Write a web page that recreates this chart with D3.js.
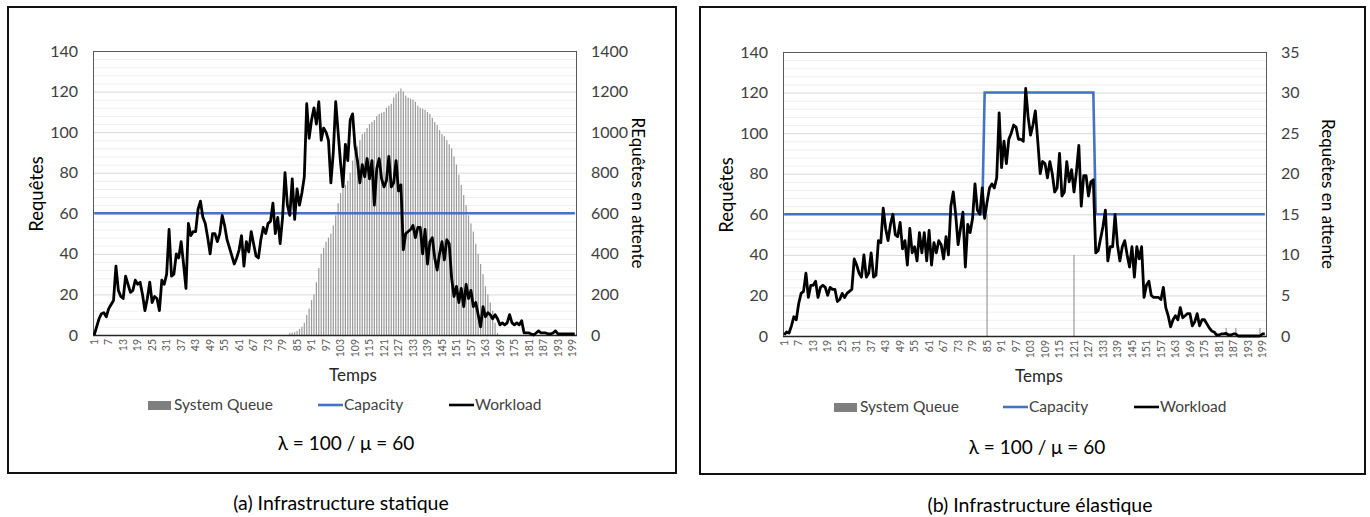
<!DOCTYPE html>
<html>
<head>
<meta charset="utf-8">
<script src="https://cdn.jsdelivr.net/npm/d3@7/dist/d3.min.js"></script>
<style>
  body { margin: 0; background: #fff; }
  svg { display: block; font-family: Lato, "Open Sans", sans-serif; }
</style>
</head>
<body>
<svg id="chart" width="1370" height="517"></svg>
<script>
// time steps 1..200 on the category axis
var categories = d3.range(1, 201);
var tickLabels = [1,7,13,19,25,31,37,43,49,55,61,67,73,79,85,91,97,103,109,115,121,127,133,139,145,151,157,163,169,175,181,187,193,199];

// (a) static infrastructure
var workloadStatic = [
  0,4,8,10.5,11,9,13,15,17,34, 22,19,18,29,25,21,22,27,25,26,
  20,12,18,26,16,19,18,12,27,25, 30,52,29,30,40,38,46,35,23,55,
  49,51,51,62,66,58,55,48,40,50, 50,46,50,59,54,47,43,39,35,38,
  42,49,34,46,41,51,45,39,38,47, 53,50,55,56,65,50,58,45,58,80,
  64,59,77,57,72,64,70,78,114,97, 106,112,104,115,96,102,100,96,75,90,
  115,100,85,73,94,86,106,109,93,86, 75,84,78,87,77,86,64,82,87,77,
  73,76,88,73,75,86,71,74,42,50, 51,52,54,48,53,53,40,52,35,46,
  48,38,32,40,46,37,47,45,28,19, 24,16,23,14,25,18,22,14,16,10,
  4,14,9,11,10,8,10,8,5,6, 5,6,10,6,5,6,5,7,1,1,
  1,0.5,0,1,2,1,1,1,0.5,0.5, 1,2,0.5,0.5,0.5,0.5,0.5,0.5,0.5,0.5
];
var queueStatic = [
  0,0,0,0,0,0,0,0,0,0, 0,0,0,0,0,0,0,0,0,0,
  0,0,0,0,0,0,0,0,0,0, 0,0,0,0,0,0,0,0,0,0,
  0,0,0,0,0,0,0,0,0,0, 0,0,0,0,0,0,0,0,0,0,
  0,0,0,0,0,0,0,0,0,0, 0,0,0,0,0,0,0,0,0,0,
  0,10,12,14,20,30,40,60,99,130, 172,200,260,330,400,430,460,480,500,540,
  590,650,700,720,740,760,800,860,900,930, 960,990,1000,1020,1040,1050,1060,1080,1090,1095,
  1100,1120,1130,1140,1170,1190,1200,1215,1200,1180, 1170,1165,1160,1150,1130,1120,1115,1110,1100,1090,
  1070,1050,1035,1010,990,980,960,940,920,880, 840,790,740,690,640,590,550,510,450,400,
  350,300,240,200,160,120,60,10,0,0, 0,0,0,0,0,0,0,0,0,0,
  0,0,0,0,0,0,0,0,0,0, 0,0,0,0,0,0,0,0,0,0
];
var capacityStaticCats = [1, 200];
var capacityStaticVals = [60, 60];

// (b) elastic infrastructure
var workloadElastic = [
  0.5,2,1.5,5,9.5,8,16,21,22,31, 19,25,25,27,19,24,25,24,20,24,
  23,23,17,18,21,19,21,22,23,38, 35,31,29,40,29,31,41,29,30,47,
  46,63,53,47,55,60,50,49,56,43, 47,35,53,41,44,37,51,41,51,37,
  52,35,46,41,47,45,38,49,40,64, 71,60,45,53,61,34,55,51,58,75,
  62,60,73,58,66,73,75,73,78,110, 83,96,85,97,100,104,103,97,97,96,
  122,108,99,104,111,96,80,86,85,78, 86,80,71,73,90,69,71,86,76,82,
  71,81,94,64,79,79,69,76,77,41, 42,48,54,62,37,44,44,60,45,37,
  44,47,40,34,44,29,44,38,44,19, 25,27,20,19,19,19,18,24,14,10,
  4.5,8,10,8,14,9,10,11,11,5, 7,11,5,8,8,6,4,2.5,2,0.5,
  0.5,1,1,1.3,0.5,0.5,1,1,0,0, 0,0,0,0,0,0,0,0,1,1
];
var queueElasticCats = [85, 121, 184, 188, 198];
var queueElasticVals = [15, 10, 1, 1, 1];
var capacityElasticCats = [1, 83, 84, 129, 130, 200];
var capacityElasticVals = [60, 60, 120, 120, 60, 60];

var legendLabels = ["System Queue", "Capacity", "Workload"];
var formulaText = "λ = 100 / μ = 60";

var panels = [
  {
    box: [8, 7, 676, 473], plot: [93, 51, 576, 335],
    rightMax: 1400, rightStep: 200, rightTitle: "REquêtes en attente",
    workload: workloadStatic,
    queueCats: categories, queueVals: queueStatic,
    capCats: capacityStaticCats, capVals: capacityStaticVals,
    tempsX: 353, tempsY: 375, legendY: 405, legendX: [148, 318, 449],
    formulaX: 346, formulaY: 443, caption: "(a) Infrastructure statique", captionX: 341, captionY: 503
  },
  {
    box: [700, 7, 1365, 474], plot: [783, 52, 1266, 336],
    rightMax: 35, rightStep: 5, rightTitle: "Requêtes en attente",
    workload: workloadElastic,
    queueCats: queueElasticCats, queueVals: queueElasticVals,
    capCats: capacityElasticCats, capVals: capacityElasticVals,
    tempsX: 1039, tempsY: 376, legendY: 407, legendX: [834, 1003, 1134],
    formulaX: 1037, formulaY: 447, caption: "(b) Infrastructure élastique", captionX: 1040, captionY: 505
  }
];

var svg = d3.select("#chart");

panels.forEach(drawPanel);

function drawPanel(p) {
  var L = p.plot[0], T = p.plot[1], R = p.plot[2], B = p.plot[3];
  var g = svg.append("g");

  // outer frame
  g.append("rect")
    .attr("x", p.box[0]).attr("y", p.box[1])
    .attr("width", p.box[2] - p.box[0]).attr("height", p.box[3] - p.box[1])
    .attr("fill", "none").attr("stroke", "#111").attr("stroke-width", 2);

  var x = d3.scaleBand().domain(categories).range([L, R]).padding(0);
  var bw = x.bandwidth();
  var y = d3.scaleLinear().domain([0, 140]).range([B, T]);
  var y2 = d3.scaleLinear().domain([0, p.rightMax]).range([B, T]);

  // grid: minor every 4, major every 20
  g.append("g").selectAll("line").data(d3.range(4, 140, 4).filter(function(v){ return v % 20 !== 0; }))
    .enter().append("line")
    .attr("x1", L).attr("x2", R)
    .attr("y1", function(d){ return y(d) + 0.5; }).attr("y2", function(d){ return y(d) + 0.5; })
    .attr("stroke", "#efefef").attr("stroke-width", 1);
  g.append("g").selectAll("line").data(d3.range(20, 140, 20))
    .enter().append("line")
    .attr("x1", L).attr("x2", R)
    .attr("y1", function(d){ return y(d) + 0.5; }).attr("y2", function(d){ return y(d) + 0.5; })
    .attr("stroke", "#d9d9d9").attr("stroke-width", 1);

  // queue bars (right axis)
  g.append("g").selectAll("rect").data(p.queueCats)
    .enter().append("rect")
    .attr("x", function(d){ return x(d) + bw * 0.25; })
    .attr("width", bw * 0.5)
    .attr("y", function(d, i){ return y2(p.queueVals[i]); })
    .attr("height", function(d, i){ return B - y2(p.queueVals[i]); })
    .attr("fill", "#9a9a9a");

  // plot frame
  g.append("rect")
    .attr("x", L + 0.5).attr("y", T + 0.5)
    .attr("width", R - L).attr("height", B - T)
    .attr("fill", "none").attr("stroke", "#595959").attr("stroke-width", 1);
  g.append("line")
    .attr("x1", L).attr("x2", R + 1).attr("y1", B + 0.5).attr("y2", B + 0.5)
    .attr("stroke", "#262626").attr("stroke-width", 1.5);

  // capacity
  var capLine = d3.line()
    .x(function(d){ return x(d) + bw / 2; })
    .y(function(d, i){ return y(p.capVals[i]); });
  g.append("path").datum(p.capCats)
    .attr("d", capLine)
    .attr("fill", "none").attr("stroke", "#4472C4").attr("stroke-width", 2.6);

  // workload
  var wLine = d3.line()
    .x(function(d){ return x(d) + bw / 2; })
    .y(function(d, i){ return y(p.workload[i]); });
  g.append("path").datum(categories)
    .attr("d", wLine)
    .attr("fill", "none").attr("stroke", "#000").attr("stroke-width", 2.8)
    .attr("stroke-linejoin", "round");

  // axes
  var axL = g.append("g").attr("transform", "translate(" + L + ",0)")
    .call(d3.axisLeft(y).tickValues(d3.range(0, 141, 20)).tickSize(0).tickPadding(15));
  var axR = g.append("g").attr("transform", "translate(" + R + ",0)")
    .call(d3.axisRight(y2).tickValues(d3.range(0, p.rightMax + 1, p.rightStep))
      .tickFormat(d3.format("d")).tickSize(0).tickPadding(15));
  [axL, axR].forEach(function(a){
    a.select(".domain").remove();
    a.selectAll("text").attr("font-size", 16).attr("fill", "#404040").attr("font-family", "Lato, sans-serif");
  });

  var axB = g.append("g").attr("transform", "translate(0," + B + ")")
    .call(d3.axisBottom(x).tickValues(tickLabels).tickSize(0));
  axB.select(".domain").remove();
  axB.selectAll("text")
    .attr("transform", "rotate(-90)")
    .attr("text-anchor", "end")
    .attr("x", -4).attr("y", 0).attr("dy", "0.35em")
    .attr("font-size", 10.5).attr("fill", "#595959").attr("font-family", "Lato, sans-serif");

  // titles
  g.append("text")
    .attr("transform", "translate(" + (L - 56) + "," + ((T + B) / 2 + 1) + ") rotate(-90)")
    .attr("text-anchor", "middle").attr("dy", "0.35em")
    .attr("font-size", 18.5).attr("fill", "#000")
    .text("Requêtes");
  g.append("text")
    .attr("transform", "translate(" + (R + 62) + "," + ((T + B) / 2) + ") rotate(90)")
    .attr("text-anchor", "middle").attr("dy", "0.35em")
    .attr("font-size", 17).attr("fill", "#000")
    .text(p.rightTitle);
  g.append("text")
    .attr("x", p.tempsX).attr("y", p.tempsY).attr("dy", "0.35em")
    .attr("text-anchor", "middle").attr("font-size", 17).attr("fill", "#262626")
    .text("Temps");

  // legend
  var ly = p.legendY;
  g.append("rect").attr("x", p.legendX[0]).attr("y", ly - 4).attr("width", 23).attr("height", 9).attr("fill", "#7f7f7f");
  g.append("line").attr("x1", p.legendX[1]).attr("x2", p.legendX[1] + 25).attr("y1", ly).attr("y2", ly)
    .attr("stroke", "#4472C4").attr("stroke-width", 2.6);
  g.append("line").attr("x1", p.legendX[2]).attr("x2", p.legendX[2] + 25).attr("y1", ly).attr("y2", ly)
    .attr("stroke", "#000").attr("stroke-width", 2.6);
  legendLabels.forEach(function(t, i){
    g.append("text")
      .attr("x", p.legendX[i] + 26).attr("y", ly).attr("dy", "0.35em")
      .attr("font-size", 15.5).attr("fill", "#404040")
      .text(t);
  });

  g.append("text")
    .attr("x", p.formulaX).attr("y", p.formulaY).attr("dy", "0.35em")
    .attr("text-anchor", "middle").attr("font-size", 19).attr("fill", "#000")
    .text(formulaText);

  svg.append("text")
    .attr("x", p.captionX).attr("y", p.captionY).attr("dy", "0.35em")
    .attr("text-anchor", "middle").attr("font-size", 19.5).attr("fill", "#000")
    .text(p.caption);
}
</script>
</body>
</html>
